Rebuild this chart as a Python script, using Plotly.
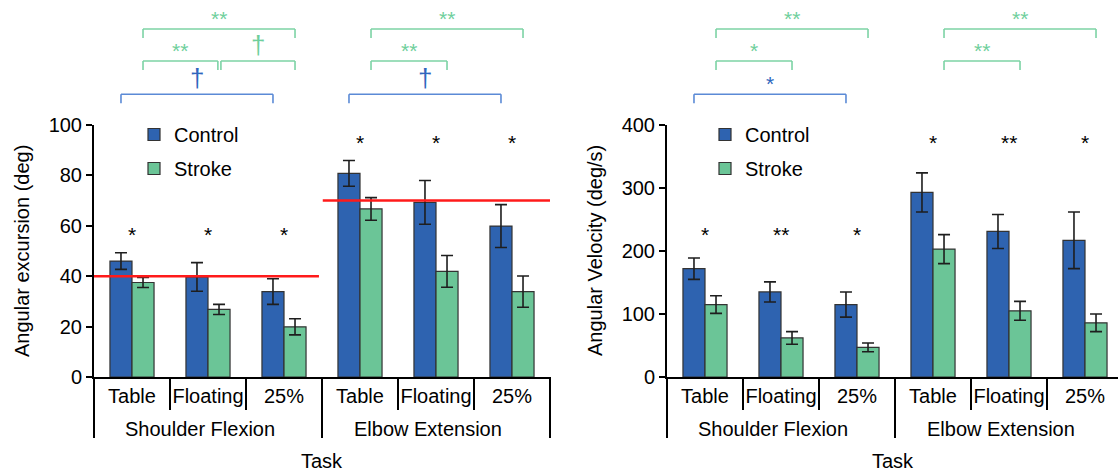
import plotly.graph_objects as go

# ---------------- data ----------------
movements = ["Shoulder Flexion", "Elbow Extension"]
tasks = ["Table", "Floating", "25%"]
groups = ["Control", "Stroke"]

# Angular excursion (deg)
exc_control = [46.0, 39.7, 33.9, 80.8, 69.3, 59.9]
exc_control_err = [3.3, 5.7, 5.1, 5.1, 8.7, 8.5]
exc_stroke = [37.5, 26.8, 19.9, 66.7, 41.9, 33.9]
exc_stroke_err = [2.0, 2.0, 3.2, 4.5, 6.3, 6.2]
exc_ref_level = [40, 70]          # red reference line per movement
exc_sig = ["*", "*", "*", "*", "*", "*"]

# Angular velocity (deg/s)
vel_control = [172, 135, 115, 293, 231, 217]
vel_control_err = [17, 16, 20, 31, 27, 45]
vel_stroke = [115, 62, 47, 203, 105, 86]
vel_stroke_err = [14, 10, 7, 23, 15, 14]
vel_sig = ["*", "**", "*", "*", "**", "*"]

# within-group comparison brackets: group, from-category, to-category, level, label
exc_br_group = ["Control", "Stroke", "Stroke", "Stroke", "Control", "Stroke", "Stroke"]
exc_br_from = [0, 0, 1, 0, 3, 3, 3]
exc_br_to = [2, 1, 2, 2, 5, 4, 5]
exc_br_level = [0, 1, 1, 2, 0, 1, 2]
exc_br_label = ["†", "**", "†", "**", "†", "**", "**"]

vel_br_group = ["Control", "Stroke", "Stroke", "Stroke", "Stroke"]
vel_br_from = [0, 0, 0, 3, 3]
vel_br_to = [2, 1, 2, 4, 5]
vel_br_level = [0, 1, 2, 1, 2]
vel_br_label = ["*", "*", "**", "**", "**"]

# ---------------- style ----------------
FONT = "Liberation Sans, Arial, Helvetica, sans-serif"
C_CONTROL = "#2e63b0"
C_STROKE = "#6bc597"
C_BR = {"Control": "#5b8ad6", "Stroke": "#7cd3a5"}
C_BR_TXT = {"Control": "#2f66bd", "Stroke": "#6fcf9c"}
BARGAP = 0.42
BAR_W = (1 - BARGAP) / 2
OFFSET = {"Control": -BAR_W / 2, "Stroke": BAR_W / 2}

categories = [(m, t) for m in movements for t in tasks]
x_idx = list(range(len(categories)))
ticktext = [t for (_, t) in categories]

PLOT_TOP, PLOT_BOT = 125, 377
PH = PLOT_BOT - PLOT_TOP


def pp(py):
    """pixel row -> paper y"""
    return (PLOT_BOT - py) / PH


fig = go.Figure()

charts = [
    dict(xa="x", ya="y", lg="legend", ctrl=exc_control, ctrl_e=exc_control_err,
         strk=exc_stroke, strk_e=exc_stroke_err, sig=exc_sig, sig_y=[56.5, 56.5, 56.5, 93, 93, 93],
         br=(exc_br_group, exc_br_from, exc_br_to, exc_br_level, exc_br_label),
         title="Angular excursion (deg)", ref=exc_ref_level),
    dict(xa="x2", ya="y2", lg="legend2", ctrl=vel_control, ctrl_e=vel_control_err,
         strk=vel_stroke, strk_e=vel_stroke_err, sig=vel_sig, sig_y=[226, 226, 226, 372, 372, 372],
         br=(vel_br_group, vel_br_from, vel_br_to, vel_br_level, vel_br_label),
         title="Angular Velocity (deg/s)", ref=None),
]

shapes = []
annotations = []

LEVEL_LINE = [pp(94.3), pp(61), pp(29)]
TIP = 9 / PH

for ch in charts:
    for g, vals, errs, col in [("Control", ch["ctrl"], ch["ctrl_e"], C_CONTROL),
                               ("Stroke", ch["strk"], ch["strk_e"], C_STROKE)]:
        fig.add_trace(go.Bar(
            x=x_idx, y=vals, name=g, xaxis=ch["xa"], yaxis=ch["ya"], legend=ch["lg"],
            legendgroup=g,
            marker=dict(color=col, line=dict(color="#333333", width=1.2)),
            error_y=dict(type="data", array=errs, color="#1e1e1e", thickness=1.6, width=6),
        ))
    xr = ch["xa"]
    xd = xr + " domain"
    # significance between groups
    for i, s in enumerate(ch["sig"]):
        annotations.append(dict(x=x_idx[i], y=ch["sig_y"][i], xref=xr, yref=ch["ya"], text=s,
                                showarrow=False, font=dict(size=21, color="black", family=FONT)))
    # brackets
    bg, bf, bt, bl, blab = ch["br"]
    for k in range(len(bg)):
        x0 = bf[k] + OFFSET[bg[k]]
        x1 = bt[k] + OFFSET[bg[k]]
        # keep neighbouring brackets on the same level apart
        for m in range(len(bg)):
            if m != k and bl[m] == bl[k]:
                if bt[m] == bf[k] and bg[m] == bg[k]:
                    x0 += 0.025
                if bf[m] == bt[k] and bg[m] == bg[k]:
                    x1 -= 0.015
        yl = LEVEL_LINE[bl[k]]
        col = C_BR[bg[k]]
        ln = dict(color=col, width=1.6)
        shapes.append(dict(type="line", xref=xr, yref="paper", x0=x0, x1=x1, y0=yl, y1=yl, line=ln))
        shapes.append(dict(type="line", xref=xr, yref="paper", x0=x0, x1=x0, y0=yl, y1=yl - TIP, line=ln))
        shapes.append(dict(type="line", xref=xr, yref="paper", x0=x1, x1=x1, y0=yl, y1=yl - TIP, line=ln))
        is_dagger = blab[k] == "†"
        annotations.append(dict(x=(x0 + x1) / 2, y=yl, xref=xr, yref="paper", text=blab[k],
                                showarrow=False, yanchor="bottom", yshift=-1 if is_dagger else -3,
                                font=dict(size=26 if is_dagger else 21, color=C_BR_TXT[bg[k]], family=FONT)))
    # red reference lines
    if ch["ref"]:
        spans = [(-0.5, 2.46), (2.51, 5.5)]
        for (a, b), lvl in zip(spans, ch["ref"]):
            shapes.append(dict(type="line", xref=xr, yref=ch["ya"], x0=a, x1=b, y0=lvl, y1=lvl,
                               line=dict(color="#ff1a1a", width=2.5)))
    # dividers below axis
    for xv in [0.5, 1.5, 3.5, 4.5]:
        shapes.append(dict(type="line", xref=xr, yref="paper", x0=xv, x1=xv, y0=0, y1=pp(410),
                           line=dict(color="black", width=2)))
    shapes.append(dict(type="line", xref=xr, yref="paper", x0=2.5, x1=2.5, y0=0, y1=pp(438),
                       line=dict(color="black", width=2)))
    shapes.append(dict(type="line", xref=xd, yref="paper", x0=0, x1=0, y0=0, y1=pp(438),
                       line=dict(color="black", width=2)))
    if ch["xa"] == "x":
        shapes.append(dict(type="line", xref=xd, yref="paper", x0=1, x1=1, y0=0, y1=pp(438),
                           line=dict(color="black", width=2)))
    # movement labels
    for gi, m in enumerate(movements):
        annotations.append(dict(x=gi * 3 + 0.89, y=pp(429), xref=xr, yref="paper", text=m,
                                showarrow=False, yanchor="middle",
                                font=dict(size=20, color="black", family=FONT)))
    # x title
    annotations.append(dict(x=0.5, y=pp(461), xref=xd, yref="paper", text="Task", showarrow=False,
                            yanchor="middle", font=dict(size=20, color="black", family=FONT)))
    # y title
    annotations.append(dict(x=0, y=0.5, xref=xd, yref="paper", text=ch["title"], textangle=-90,
                            xshift=-72, showarrow=False, xanchor="center", yanchor="middle",
                            font=dict(size=20, color="black", family=FONT)))

L, W = 94, 1024
xcommon = dict(showline=True, linecolor="black", linewidth=2, showgrid=False, zeroline=False,
               tickvals=x_idx, ticktext=ticktext, ticks="", tickfont=dict(size=20, color="black", family=FONT),
               fixedrange=True)
ycommon = dict(showline=True, linecolor="black", linewidth=2, showgrid=False, zeroline=False,
               ticks="outside", ticklen=6, tickwidth=2, tickcolor="black",
               tickfont=dict(size=20, color="black", family=FONT), fixedrange=True)

legend_common = dict(font=dict(size=20, color="black", family=FONT), bgcolor="rgba(0,0,0,0)",
                     yanchor="top", xanchor="left", tracegroupgap=5, traceorder="grouped",
                     itemclick=False)

fig.update_layout(
    width=1118, height=472,
    margin=dict(l=L, r=0, t=PLOT_TOP, b=472 - PLOT_BOT),
    paper_bgcolor="white", plot_bgcolor="white",
    font=dict(family=FONT, size=20, color="black"),
    barmode="group", bargap=BARGAP, bargroupgap=0,
    xaxis=dict(domain=[0, 456 / W], range=[-0.5, 5.5], anchor="y", **xcommon),
    yaxis=dict(domain=[0, 1], range=[0, 100], dtick=20, anchor="x", **ycommon),
    xaxis2=dict(domain=[(667 - L) / W, 1], range=[-0.5, 5.5 - 5 / 76], anchor="y2", **xcommon),
    yaxis2=dict(domain=[0, 1], range=[0, 400], dtick=100, anchor="x2", **ycommon),
    legend=dict(x=(134 - L) / W, y=pp(115), **legend_common),
    legend2=dict(x=(705 - L) / W, y=pp(115), **legend_common),
    shapes=shapes, annotations=annotations,
)

fig.write_html("out.html")
